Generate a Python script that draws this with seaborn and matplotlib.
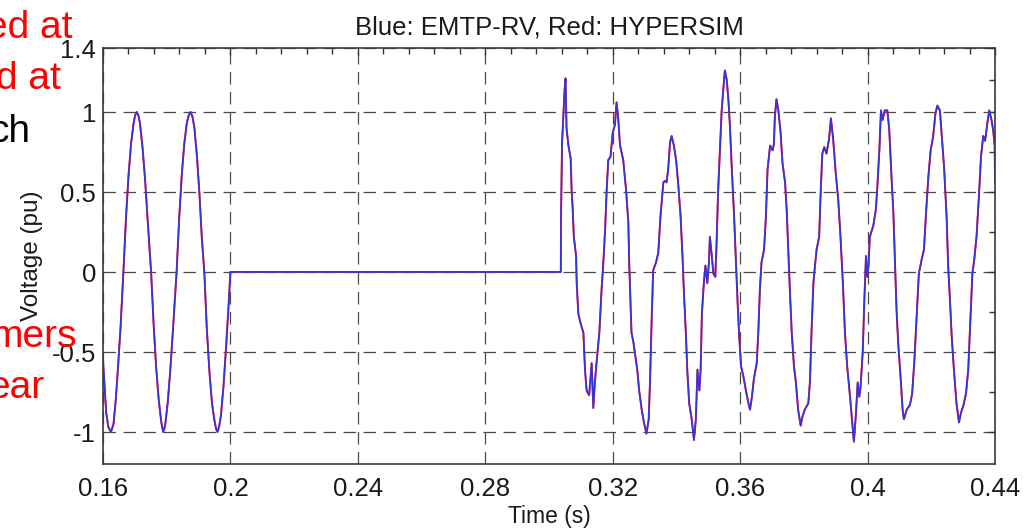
import matplotlib
matplotlib.use("Agg")
import matplotlib.pyplot as plt
import numpy as np
import pandas as pd
import seaborn as sns
from matplotlib.ticker import FixedLocator, FixedFormatter

# ---------------- data ----------------
# steady state before the fault
t_steady = [0.1600, 0.1610, 0.1617, 0.1625, 0.1633, 0.1640, 0.1647, 0.1655, 0.1664,
            0.1672, 0.1680, 0.1688, 0.1696, 0.1701, 0.1706, 0.1711, 0.1716, 0.1724,
            0.1732, 0.1741, 0.1751, 0.1759, 0.1767, 0.1775, 0.1783, 0.1789, 0.1795,
            0.1803, 0.1811, 0.1820, 0.1831, 0.1839, 0.1847, 0.1855, 0.1863, 0.1869,
            0.1875, 0.1881, 0.1887, 0.1895, 0.1903, 0.1910, 0.1918, 0.1926, 0.1934,
            0.1942, 0.1950, 0.1955, 0.1959, 0.1964, 0.1970, 0.1978, 0.1986, 0.1993, 0.2000]
v_steady = [-0.55, -0.88, -0.97, -1.00, -0.95, -0.80, -0.60, -0.35, 0.00,
            0.33, 0.60, 0.80, 0.93, 0.98, 1.00, 0.98, 0.93, 0.78,
            0.58, 0.30, 0.00, -0.33, -0.60, -0.80, -0.94, -1.00, -0.96,
            -0.82, -0.62, -0.35, 0.00, 0.33, 0.60, 0.80, 0.93, 0.98,
            1.00, 0.97, 0.90, 0.72, 0.48, 0.22, 0.00, -0.36, -0.62,
            -0.82, -0.93, -0.98, -1.00, -0.97, -0.90, -0.72, -0.48, -0.25, 0.00]

# breaker open
t_open = [0.2000, 0.3037]
v_open = [0.00, 0.00]

# reclosing transient
t_rc1 = [0.3038, 0.3041, 0.3045, 0.3049, 0.3052, 0.3055, 0.3061, 0.3068, 0.3071, 0.3074,
         0.3078, 0.3085, 0.3087, 0.3092, 0.3099, 0.3108, 0.3113, 0.3118, 0.3126, 0.3134,
         0.3139, 0.3144, 0.3150, 0.3158, 0.3165, 0.3170, 0.3176, 0.3181, 0.3186, 0.3193,
         0.3200, 0.3207, 0.3212, 0.3217, 0.3223, 0.3233, 0.3242, 0.3249, 0.3252, 0.3256,
         0.3259, 0.3265, 0.3270, 0.3277, 0.3283, 0.3291, 0.3298, 0.3306, 0.3313, 0.3317,
         0.3322, 0.3327, 0.3336, 0.3343, 0.3350, 0.3359]
v_rc1 = [0.38, 0.81, 0.98, 1.14, 1.21, 0.90, 0.79, 0.71, 0.51, 0.41,
         0.22, 0.10, -0.07, -0.26, -0.32, -0.38, -0.61, -0.74, -0.77, -0.57,
         -0.85, -0.69, -0.55, -0.38, -0.11, 0.04, 0.26, 0.51, 0.70, 0.72,
         0.87, 0.92, 1.06, 0.97, 0.79, 0.70, 0.51, 0.31, 0.04, -0.21,
         -0.38, -0.44, -0.51, -0.61, -0.74, -0.86, -0.94, -1.01, -0.92, -0.69,
         -0.32, 0.01, 0.06, 0.12, 0.35, 0.56]

t_rc2 = [0.3364, 0.3369, 0.3374, 0.3380, 0.3385, 0.3392, 0.3399, 0.3406, 0.3413, 0.3419,
         0.3424, 0.3430, 0.3434, 0.3440, 0.3448, 0.3455, 0.3461, 0.3466, 0.3472, 0.3476,
         0.3480, 0.3486, 0.3491, 0.3497, 0.3502, 0.3505, 0.3511, 0.3516, 0.3522, 0.3526,
         0.3531, 0.3537, 0.3542, 0.3547, 0.3552, 0.3558, 0.3563, 0.3568, 0.3573, 0.3581,
         0.3587, 0.3592, 0.3597, 0.3603, 0.3610, 0.3618, 0.3626, 0.3631, 0.3637, 0.3643,
         0.3652, 0.3657, 0.3662, 0.3667, 0.3675, 0.3681, 0.3686, 0.3694, 0.3702]
v_rc2 = [0.57, 0.56, 0.64, 0.81, 0.85, 0.79, 0.70, 0.54, 0.35, 0.10,
         -0.15, -0.40, -0.61, -0.82, -0.92, -1.05, -0.92, -0.61, -0.74, -0.61,
         -0.26, -0.07, 0.04, -0.07, 0.06, 0.22, 0.10, -0.01, -0.03, 0.18,
         0.51, 0.79, 1.01, 1.14, 1.26, 1.20, 1.08, 0.91, 0.68, 0.35,
         0.06, -0.19, -0.40, -0.59, -0.65, -0.74, -0.82, -0.86, -0.78, -0.67,
         -0.57, -0.38, -0.11, 0.06, 0.14, 0.35, 0.64, 0.79, 0.76]

t_rc3 = [0.3706, 0.3709, 0.3714, 0.3720, 0.3727, 0.3733, 0.3741, 0.3746, 0.3751, 0.3756,
         0.3762, 0.3769, 0.3775, 0.3782, 0.3790, 0.3796, 0.3803, 0.3814, 0.3819, 0.3824,
         0.3830, 0.3835, 0.3840, 0.3848, 0.3853, 0.3858, 0.3864, 0.3871, 0.3879, 0.3885,
         0.3892, 0.3900, 0.3908, 0.3915, 0.3922, 0.3929, 0.3936, 0.3945, 0.3951, 0.3957,
         0.3963, 0.3969, 0.3974, 0.3978, 0.3985, 0.3990, 0.3995, 0.3999, 0.4003, 0.4007,
         0.4018, 0.4026, 0.4030, 0.4037, 0.4042, 0.4047]
v_rc3 = [0.80, 0.97, 1.08, 1.01, 0.87, 0.68, 0.56, 0.39, 0.14, -0.11,
         -0.38, -0.59, -0.69, -0.86, -0.96, -0.90, -0.86, -0.82, -0.69, -0.38,
         -0.07, 0.04, 0.14, 0.22, 0.51, 0.74, 0.78, 0.74, 0.83, 0.96,
         0.83, 0.62, 0.45, 0.22, -0.05, -0.38, -0.59, -0.78, -0.92, -1.06,
         -0.90, -0.69, -0.78, -0.72, -0.49, -0.17, 0.10, -0.03, 0.04, 0.22,
         0.29, 0.39, 0.51, 0.76, 1.01, 0.95]

t_rc4 = [0.4054, 0.4062, 0.4068, 0.4075, 0.4081, 0.4086, 0.4091, 0.4096, 0.4104, 0.4110,
         0.4114, 0.4123, 0.4133, 0.4140, 0.4147, 0.4154, 0.4161, 0.4170, 0.4177, 0.4183,
         0.4191, 0.4198, 0.4206, 0.4213, 0.4219, 0.4227, 0.4233, 0.4240, 0.4248, 0.4253,
         0.4259, 0.4264, 0.4271, 0.4279, 0.4287, 0.4293, 0.4300, 0.4309, 0.4316, 0.4321,
         0.4329, 0.4335, 0.4342, 0.4350, 0.4356, 0.4363, 0.4369, 0.4376, 0.4382, 0.4389,
         0.4394, 0.4399, 0.4400]
v_rc4 = [1.01, 1.01, 0.89, 0.60, 0.37, 0.06, -0.24, -0.44, -0.67, -0.86,
         -0.92, -0.86, -0.83, -0.76, -0.55, -0.28, -0.01, 0.08, 0.14, 0.35,
         0.60, 0.76, 0.85, 0.99, 1.04, 1.01, 0.85, 0.66, 0.35, 0.04,
         -0.19, -0.40, -0.61, -0.82, -0.94, -0.88, -0.84, -0.76, -0.61, -0.38,
         -0.01, 0.08, 0.22, 0.49, 0.72, 0.85, 0.82, 0.93, 1.01, 0.95,
         0.89, 0.79, 0.56]

x_ticks = [0.16, 0.20, 0.24, 0.28, 0.32, 0.36, 0.40, 0.44]
x_tick_labels = ["0.16", "0.2", "0.24", "0.28", "0.32", "0.36", "0.4", "0.44"]
x_minor = [0.168, 0.176, 0.184, 0.192, 0.208, 0.216, 0.224, 0.232, 0.248, 0.256, 0.264,
           0.272, 0.288, 0.296, 0.304, 0.312, 0.328, 0.336, 0.344, 0.352, 0.368, 0.376,
           0.384, 0.392, 0.408, 0.416, 0.424, 0.432]
y_ticks = [-1.0, -0.5, 0.0, 0.5, 1.0, 1.4]
y_tick_labels = ["-1", "-0.5", "0", "0.5", "1", "1.4"]
y_minor = [-0.75, -0.25, 0.25, 0.75, 1.2]

title_text = "Blue: EMTP-RV, Red: HYPERSIM"
x_label = "Time (s)"
y_label = "Voltage (pu)"

# ---------------- build the table ----------------
time = np.concatenate([t_steady, t_open, t_rc1, t_rc2, t_rc3, t_rc4])
volt = np.concatenate([v_steady, v_open, v_rc1, v_rc2, v_rc3, v_rc4])
df = pd.DataFrame({
    "time": np.concatenate([time, time]),
    "voltage": np.concatenate([volt, volt]),
    "program": ["HYPERSIM"] * len(time) + ["EMTP-RV"] * len(time),
})

# ---------------- figure ----------------
sns.set_style("white")
plt.rcParams["font.family"] = ["Liberation Sans", "DejaVu Sans"]

W, H = 1024, 531
fig = plt.figure(figsize=(W / 100, H / 100), dpi=100)
ax = fig.add_axes([103 / W, 1 - 464 / H, 892 / W, 416 / H])

sns.lineplot(data=df[df.program == "HYPERSIM"], x="time", y="voltage",
             estimator=None, sort=False, color="#ff2020", lw=1.4, ax=ax, legend=False)
sns.lineplot(data=df[df.program == "EMTP-RV"], x="time", y="voltage",
             estimator=None, sort=False, color="#3434dc", lw=1.2, ax=ax,
             legend=False)

ax.set_xlim(0.16, 0.44)
ax.set_ylim(-1.2, 1.4)

ax.xaxis.set_major_locator(FixedLocator(x_ticks))
ax.xaxis.set_major_formatter(FixedFormatter(x_tick_labels))
ax.xaxis.set_minor_locator(FixedLocator(x_minor))
ax.yaxis.set_major_locator(FixedLocator(y_ticks))
ax.yaxis.set_major_formatter(FixedFormatter(y_tick_labels))
ax.yaxis.set_minor_locator(FixedLocator(y_minor))

ax.tick_params(which="both", direction="in", top=True, right=True,
               color="#333333", width=1.0)
ax.tick_params(which="major", length=5)
ax.tick_params(which="minor", length=4)
ax.tick_params(axis="x", which="major", labelsize=18.5, pad=9, colors="#333333",
               labelcolor="#1a1a1a")
ax.tick_params(axis="y", which="major", labelsize=18.5, pad=5, colors="#333333",
               labelcolor="#1a1a1a")

ax.grid(True, which="major", linestyle=(0, (10, 6)), color="#4a4a4a", lw=0.9)
ax.set_axisbelow(True)

for s in ax.spines.values():
    s.set_color("#3a3a3a")
    s.set_linewidth(1.2)

ax.set_title(title_text, fontsize=18.5, pad=10, color="#1a1a1a")
ax.set_xlabel(x_label, fontsize=16.5, labelpad=3, color="#1a1a1a")
ax.set_ylabel(y_label, fontsize=17.5, color="#1a1a1a")
ax.yaxis.set_label_coords(-0.067, 0.5)

# slide text behind the chart (cut off at the left edge)
overlay = [("ed at", 72.7, 38.3, "#ff0000"),
           ("d at", 61.0, 89.3, "#ff0000"),
           ("ch", 30.0, 141.7, "#000000"),
           ("mers", 76.7, 346.7, "#ff0000"),
           ("ear", 45.0, 398.3, "#ff0000")]
for txt, xr, yb, col in overlay:
    fig.text(xr / W, 1 - yb / H, txt, ha="right", va="baseline",
             fontsize=28, color=col)

fig.savefig("out.png", dpi=100)
